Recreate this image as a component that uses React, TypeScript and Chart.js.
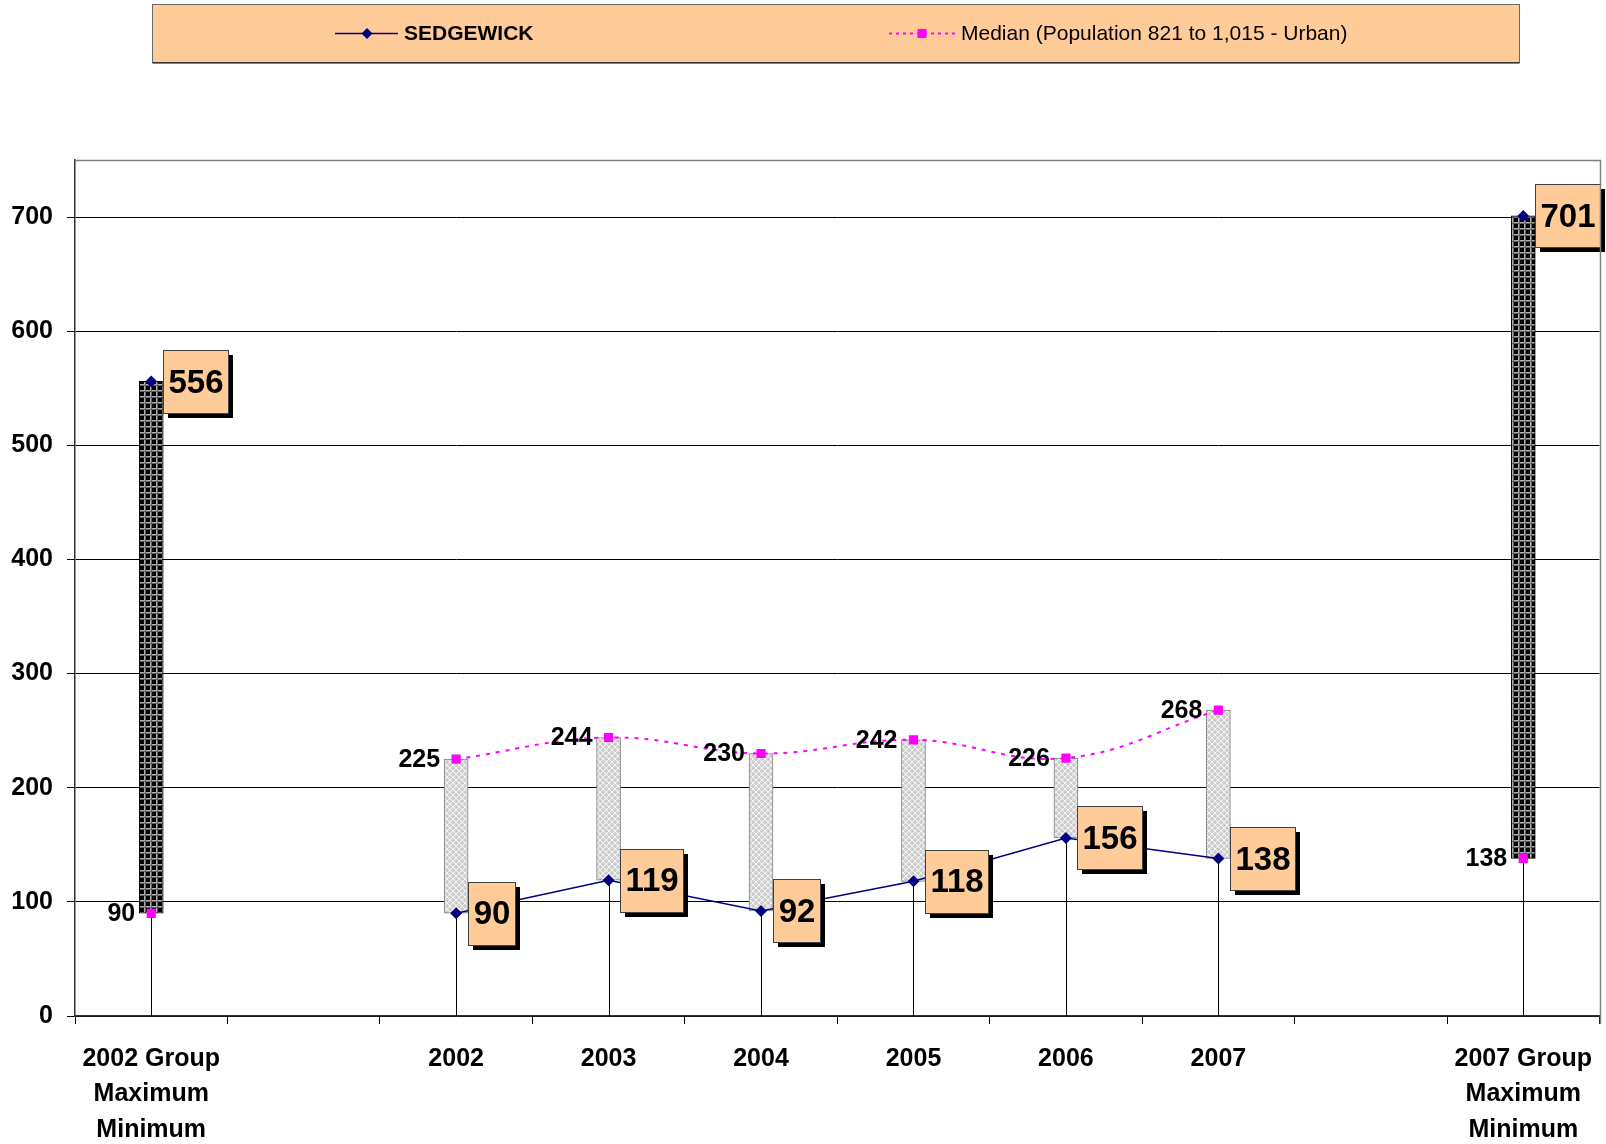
import React, { useEffect, useRef } from 'react';
import { Chart, registerables } from 'chart.js';

Chart.register(...registerables);

const FONT = "'Liberation Sans', Arial, Helvetica, sans-serif";

// ---- data ----
const categories: (string | string[])[] = [
  ['2002 Group', 'Maximum', 'Minimum'],
  '',
  '2002',
  '2003',
  '2004',
  '2005',
  '2006',
  '2007',
  '',
  ['2007 Group', 'Maximum', 'Minimum'],
];
const sedgewick = [90, 119, 92, 118, 156, 138];
const median = [225, 244, 230, 242, 226, 268];
const groupMax = [556, 701];
const groupMin = [90, 138];
const yTicks = [0, 100, 200, 300, 400, 500, 600, 700];
const legendLabels = ['SEDGEWICK', 'Median (Population 821 to 1,015 - Urban)'];

const YEAR_START = 2; // index of first year category
const N = categories.length;

function yearSeries(vals: number[]): (number | null)[] {
  const out: (number | null)[] = new Array(N).fill(null);
  vals.forEach((v, i) => (out[YEAR_START + i] = v));
  return out;
}
function groupSeries(vals: number[]): (number | null)[] {
  const out: (number | null)[] = new Array(N).fill(null);
  out[0] = vals[0];
  out[N - 1] = vals[1];
  return out;
}

const sedgewickSeries = yearSeries(sedgewick);
const medianSeries = yearSeries(median);
const maxSeries = groupSeries(groupMax);
const minSeries = groupSeries(groupMin);

const NAVY = '#000080';
const MAGENTA = '#FF00FF';
const PEACH = '#FFCC99';

function makeDarkPattern(): CanvasPattern | string {
  const c = document.createElement('canvas');
  c.width = 6;
  c.height = 6;
  const g = c.getContext('2d');
  if (!g) return '#222';
  g.fillStyle = '#000';
  g.fillRect(0, 0, 6, 6);
  g.fillStyle = '#b0b0b0';
  g.fillRect(0, 0, 6, 1);
  g.fillRect(0, 0, 1, 6);
  g.fillStyle = '#606060';
  g.fillRect(0, 1, 6, 1);
  g.fillRect(1, 0, 1, 6);
  return g.createPattern(c, 'repeat') || '#222';
}

function makeLightPattern(): CanvasPattern | string {
  const c = document.createElement('canvas');
  c.width = 6;
  c.height = 6;
  const g = c.getContext('2d');
  if (!g) return '#d8d8d8';
  g.fillStyle = '#d2d2d2';
  g.fillRect(0, 0, 6, 6);
  g.fillStyle = '#f4f4f4';
  for (let i = 0; i < 6; i++) {
    g.fillRect(i, i, 1, 1);
    g.fillRect(i, 5 - i, 1, 1);
  }
  g.fillStyle = '#bcbcbc';
  g.fillRect(0, 3, 1, 1);
  g.fillRect(3, 0, 1, 1);
  return g.createPattern(c, 'repeat') || '#d8d8d8';
}

const dropLinePlugin = {
  id: 'dropLines',
  beforeDatasetsDraw(chart: any) {
    const ctx = chart.ctx;
    const yScale = chart.scales.y;
    const xScale = chart.scales.x;
    ctx.save();
    ctx.strokeStyle = '#000';
    ctx.lineWidth = 1;
    for (let i = 0; i < N; i++) {
      const vals = [sedgewickSeries[i], medianSeries[i], maxSeries[i], minSeries[i]].filter(
        (v) => v !== null
      ) as number[];
      if (!vals.length) continue;
      const low = Math.min(...vals);
      const x = Math.round(xScale.getPixelForValue(i)) + 0.5;
      ctx.beginPath();
      ctx.moveTo(x, yScale.getPixelForValue(low));
      ctx.lineTo(x, yScale.getPixelForValue(0));
      ctx.stroke();
    }
    ctx.restore();
  },
};

function drawBoxLabel(ctx: CanvasRenderingContext2D, txt: string, x: number, y: number) {
  ctx.font = `bold 33px ${FONT}`;
  const w = Math.round(ctx.measureText(txt).width + 10);
  const h = 63;
  const left = Math.round(x + 11.5);
  const top = Math.round(y - h / 2);
  ctx.fillStyle = '#000';
  ctx.fillRect(left + 5, top + 5, w, h);
  ctx.fillStyle = PEACH;
  ctx.fillRect(left, top, w, h);
  ctx.strokeStyle = '#404040';
  ctx.lineWidth = 1;
  ctx.strokeRect(left + 0.5, top + 0.5, w, h);
  ctx.fillStyle = '#000';
  ctx.textAlign = 'center';
  ctx.textBaseline = 'middle';
  ctx.fillText(txt, left + w / 2 + 0.5, y + 2);
}

function drawPlainLabel(ctx: CanvasRenderingContext2D, txt: string, x: number, y: number) {
  ctx.font = `bold 25px ${FONT}`;
  ctx.fillStyle = '#000';
  ctx.textAlign = 'right';
  ctx.textBaseline = 'middle';
  ctx.fillText(txt, x - 16, y + 1);
}

const labelPlugin = {
  id: 'valueLabels',
  afterDatasetsDraw(chart: any) {
    const ctx = chart.ctx;
    ctx.save();
    [1, 3].forEach((di) => {
      const meta = chart.getDatasetMeta(di);
      const data = chart.data.datasets[di].data;
      meta.data.forEach((el: any, i: number) => {
        if (data[i] === null) return;
        drawPlainLabel(ctx, String(data[i]), el.x, el.y);
      });
    });
    [0, 2].forEach((di) => {
      const meta = chart.getDatasetMeta(di);
      const data = chart.data.datasets[di].data;
      meta.data.forEach((el: any, i: number) => {
        if (data[i] === null) return;
        drawBoxLabel(ctx, String(data[i]), el.x, el.y);
      });
    });
    ctx.restore();
  },
};

const framePlugin = {
  id: 'frameAndLegend',
  afterDraw(chart: any) {
    const ctx = chart.ctx;
    const a = chart.chartArea;
    ctx.save();
    // top and right border of plot area
    ctx.strokeStyle = '#808080';
    ctx.lineWidth = 1.5;
    ctx.beginPath();
    ctx.moveTo(a.left, Math.round(a.top) + 0.5);
    ctx.lineTo(Math.round(a.right) + 0.5, Math.round(a.top) + 0.5);
    ctx.lineTo(Math.round(a.right) + 0.5, a.bottom + 8);
    ctx.stroke();

    // legend box
    const lx = 152.5, ly = 4.5, lw = 1367, lh = 58;
    ctx.fillStyle = PEACH;
    ctx.fillRect(lx, ly, lw, lh);
    ctx.strokeStyle = '#6a6a6a';
    ctx.lineWidth = 1;
    ctx.strokeRect(lx, ly, lw, lh);
    ctx.strokeStyle = '#000';
    ctx.beginPath();
    ctx.moveTo(lx, ly + lh + 0.5);
    ctx.lineTo(lx + lw, ly + lh + 0.5);
    ctx.stroke();

    const cy = 33.5;
    // item 1: SEDGEWICK
    ctx.strokeStyle = NAVY;
    ctx.lineWidth = 1.5;
    ctx.beginPath();
    ctx.moveTo(335, cy);
    ctx.lineTo(398, cy);
    ctx.stroke();
    ctx.fillStyle = NAVY;
    ctx.beginPath();
    ctx.moveTo(367, cy - 5.5);
    ctx.lineTo(372.5, cy);
    ctx.lineTo(367, cy + 5.5);
    ctx.lineTo(361.5, cy);
    ctx.closePath();
    ctx.fill();
    ctx.fillStyle = '#000';
    ctx.textAlign = 'left';
    ctx.textBaseline = 'middle';
    ctx.font = `bold 21px ${FONT}`;
    ctx.fillText(legendLabels[0], 404, cy + 1);

    // item 2: Median
    ctx.strokeStyle = MAGENTA;
    ctx.lineWidth = 2;
    ctx.setLineDash([3, 4]);
    ctx.beginPath();
    ctx.moveTo(889, cy);
    ctx.lineTo(955, cy);
    ctx.stroke();
    ctx.setLineDash([]);
    ctx.fillStyle = MAGENTA;
    ctx.fillRect(917.5, cy - 4.5, 9, 9);
    ctx.fillStyle = '#000';
    ctx.font = `21px ${FONT}`;
    ctx.fillText(legendLabels[1], 961, cy + 1);

    ctx.restore();
  },
};

export default function App() {
  const ref = useRef<HTMLCanvasElement | null>(null);

  useEffect(() => {
    if (!ref.current) return;
    const dark = makeDarkPattern();
    const light = makeLightPattern();
    const isGroup = (i: number) => i === 0 || i === N - 1;

    const barData = categories.map((_, i) => {
      const vals = [sedgewickSeries[i], medianSeries[i], maxSeries[i], minSeries[i]].filter(
        (v) => v !== null
      ) as number[];
      if (vals.length < 2) return null;
      return [Math.min(...vals), Math.max(...vals)];
    });

    const chart = new Chart(ref.current, {
      type: 'bar',
      data: {
        labels: categories as any,
        datasets: [
          {
            type: 'line',
            label: legendLabels[0],
            data: sedgewickSeries,
            borderColor: NAVY,
            backgroundColor: NAVY,
            borderWidth: 1.5,
            pointStyle: 'rectRot',
            pointRadius: 6,
            pointBorderWidth: 0,
            pointBackgroundColor: NAVY,
            tension: 0,
            spanGaps: false,
          } as any,
          {
            type: 'line',
            label: legendLabels[1],
            data: medianSeries,
            borderColor: MAGENTA,
            backgroundColor: MAGENTA,
            borderWidth: 2,
            borderDash: [4, 6],
            pointStyle: 'rect',
            pointRadius: 6.5,
            pointBorderWidth: 0,
            pointBackgroundColor: MAGENTA,
            tension: 0.4,
            spanGaps: false,
          } as any,
          {
            type: 'line',
            label: 'Group Maximum',
            data: maxSeries,
            showLine: false,
            pointStyle: 'rectRot',
            pointRadius: 6,
            pointBorderWidth: 0,
            pointBackgroundColor: NAVY,
            borderColor: NAVY,
          } as any,
          {
            type: 'line',
            label: 'Group Minimum',
            data: minSeries,
            showLine: false,
            pointStyle: 'rect',
            pointRadius: 6.5,
            pointBorderWidth: 0,
            pointBackgroundColor: MAGENTA,
            borderColor: MAGENTA,
          } as any,
          {
            type: 'bar',
            label: 'Range',
            data: barData as any,
            backgroundColor: categories.map((_, i) => (isGroup(i) ? dark : light)) as any,
            borderColor: categories.map((_, i) => (isGroup(i) ? '#000' : '#808080')),
            borderWidth: 1,
            borderSkipped: false,
            barThickness: 24,
          } as any,
        ],
      },
      options: {
        responsive: false,
        animation: false,
        layout: { padding: { top: 160, right: 3, left: 0, bottom: 0 } },
        plugins: {
          legend: { display: false },
          tooltip: { enabled: false },
          title: { display: false },
        },
        scales: {
          x: {
            offset: true,
            grid: {
              offset: true,
              drawOnChartArea: false,
              drawTicks: true,
              tickLength: 8,
              color: '#000',
            },
            border: { color: '#333', width: 1.5 },
            ticks: {
              autoSkip: false,
              maxRotation: 0,
              minRotation: 0,
              padding: 17,
              color: '#000',
              font: { family: FONT, size: 25, weight: 'bold', lineHeight: 1.42 },
            },
            afterFit: (s: any) => {
              s.height = 128;
              s.paddingLeft = 0;
              s.paddingRight = 0;
            },
          },
          y: {
            min: 0,
            max: 750,
            afterBuildTicks: (s: any) => {
              s.ticks = yTicks.map((v) => ({ value: v }));
            },
            grid: {
              color: '#000',
              lineWidth: 1,
              drawTicks: true,
              tickLength: 8,
            },
            border: { color: '#333', width: 1.5 },
            ticks: {
              padding: 14,
              color: '#000',
              font: { family: FONT, size: 25, weight: 'bold' },
            },
            afterFit: (s: any) => {
              s.width = 75;
              s.paddingTop = 0;
              s.paddingBottom = 0;
            },
          },
        },
      } as any,
      plugins: [dropLinePlugin, labelPlugin, framePlugin],
    });

    return () => chart.destroy();
  }, []);

  return (
    <div
      style={{
        position: 'fixed',
        left: 0,
        top: 0,
        width: 1606,
        height: 1144,
        background: '#fff',
      }}
    >
      <canvas ref={ref} width={1606} height={1144} style={{ display: 'block' }} />
    </div>
  );
}
